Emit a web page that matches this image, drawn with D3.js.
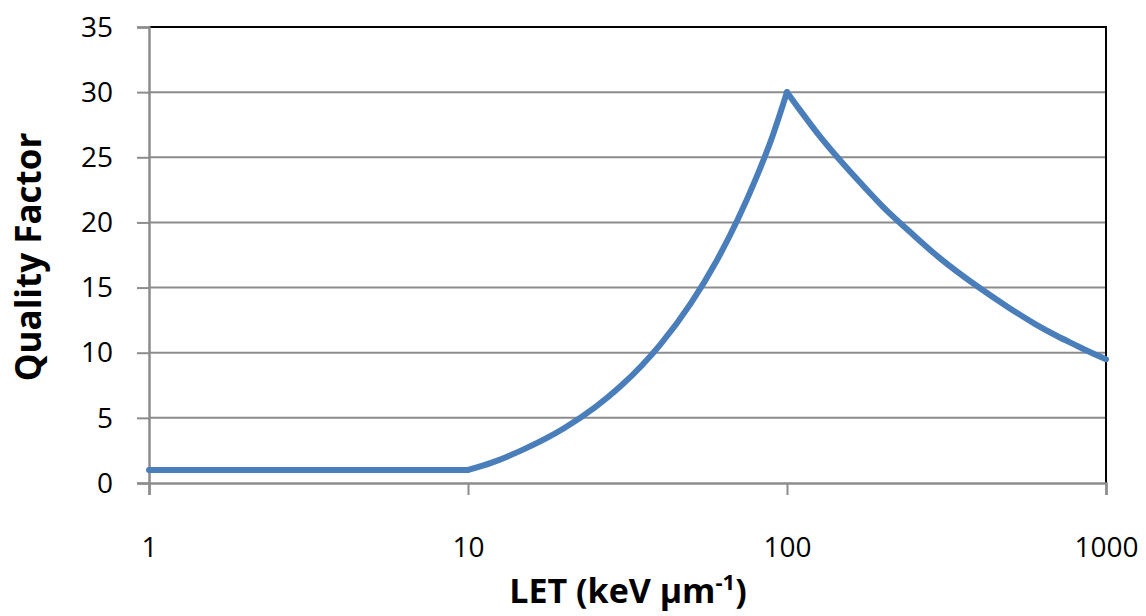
<!DOCTYPE html>
<html>
<head>
<meta charset="utf-8">
<script src="https://cdn.jsdelivr.net/npm/d3@7"></script>
<style>
  body { margin: 0; background: #fff; }
  text { font-family: "Open Sans", Lato, sans-serif; fill: #000; }
</style>
</head>
<body>
<div id="chart"></div>
<script>
// LET values (keV/um) and quality factor
const letValues = [1, 10, 12, 15, 17.5, 20, 25, 30, 35, 40, 50, 60, 70, 80, 90, 100,
                   110, 125, 150, 175, 200, 250, 300, 400, 500, 600, 700, 800, 900, 1000];
const qualityValues = [1, 1, 1.6, 2.6, 3.4, 4.2, 5.8, 7.4, 9, 10.6, 13.8, 17, 20.2, 23.4, 26.6, 30,
                       28.6, 26.8, 24.5, 22.7, 21.2, 19, 17.3, 15, 13.4, 12.2, 11.3, 10.6, 10, 9.5];
// the curve has corners at LET = 10 and LET = 100
const breakpoints = [1, 10, 100, 1000];
const xTicks = [1, 10, 100, 1000];
const yTicks = [0, 5, 10, 15, 20, 25, 30, 35];

const width = 1146;
const height = 616;
const margin = {top: 27, right: 40, bottom: 133, left: 149};

const svg = d3.select("#chart")
  .append("svg")
  .attr("width", width)
  .attr("height", height);

const x = d3.scaleLog()
  .domain([1, 1000])
  .range([margin.left, width - margin.right]);

const y = d3.scaleLinear()
  .domain([0, 35])
  .range([height - margin.bottom, margin.top]);

// horizontal gridlines
svg.append("g")
  .selectAll("line")
  .data(yTicks.slice(1))
  .join("line")
  .attr("x1", margin.left)
  .attr("x2", width - margin.right)
  .attr("y1", d => y(d))
  .attr("y2", d => y(d))
  .attr("stroke", "#8c8c8c")
  .attr("stroke-width", 2);

// plot area border on top and right
svg.append("path")
  .attr("d", `M${margin.left},${y(35)}H${width - margin.right}V${y(0)}`)
  .attr("fill", "none")
  .attr("stroke", "#000")
  .attr("stroke-width", 2);

// y axis
const yAxis = svg.append("g")
  .attr("transform", `translate(${margin.left},0)`)
  .call(d3.axisLeft(y).tickValues(yTicks).tickSize(12));
yAxis.select(".domain").attr("stroke", "#8c8c8c").attr("stroke-width", 2.5);
yAxis.selectAll(".tick line").attr("stroke", "#8c8c8c").attr("stroke-width", 2);
yAxis.selectAll(".tick text")
  .style("font-size", "28px")
  .attr("dy", "0.33em")
  .attr("x", -36);

// x axis
const xAxis = svg.append("g")
  .attr("transform", `translate(0,${y(0)})`)
  .call(d3.axisBottom(x).tickValues(xTicks).tickFormat(d3.format("d")).tickSize(12).tickPadding(42));
xAxis.select(".domain").attr("stroke", "#8c8c8c").attr("stroke-width", 2.5);
xAxis.selectAll(".tick line").attr("stroke", "#8c8c8c").attr("stroke-width", 2);
xAxis.selectAll(".tick text").style("font-size", "28px");

// the curve, drawn as smooth pieces between the corners
const data = letValues.map((l, i) => ({l: l, q: qualityValues[i]}));
const line = d3.line()
  .x(d => x(d.l))
  .y(d => y(d.q))
  .curve(d3.curveMonotoneX);

const pieces = d3.pairs(breakpoints).map(([a, b]) => data.filter(d => d.l >= a && d.l <= b));

svg.append("g")
  .selectAll("path")
  .data(pieces)
  .join("path")
  .attr("d", line)
  .attr("fill", "none")
  .attr("stroke", "#4a7ebb")
  .attr("stroke-width", 6)
  .attr("stroke-linejoin", "round")
  .attr("stroke-linecap", "round");

// axis titles
svg.append("text")
  .attr("transform", `translate(41,${(y(0) + y(35)) / 2 + 2}) rotate(-90)`)
  .attr("text-anchor", "middle")
  .style("font-size", "35px")
  .style("font-weight", "bold")
  .text("Quality Factor");

const xt = svg.append("text")
  .attr("x", 628)
  .attr("y", 603)
  .attr("text-anchor", "middle")
  .style("font-size", "34px")
  .style("font-weight", "bold");
xt.append("tspan").text("LET (keV \u00b5m");
xt.append("tspan").attr("dy", -13).style("font-size", "22px").text("-1");
xt.append("tspan").attr("dy", 13).text(")");
</script>
</body>
</html>
